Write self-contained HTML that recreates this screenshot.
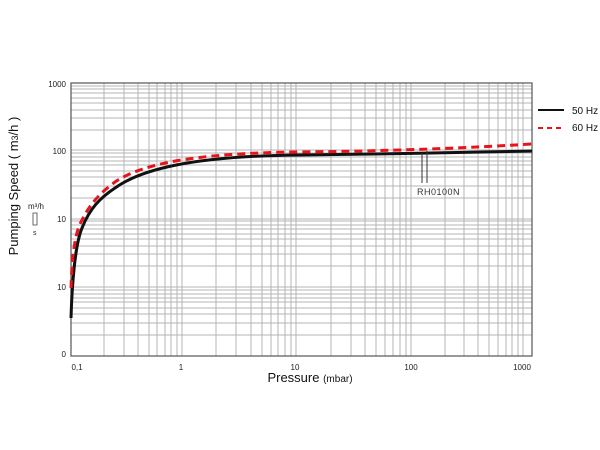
<!DOCTYPE html>
<html><head><meta charset="utf-8"><style>
body{margin:0;background:#fff;width:600px;height:450px;overflow:hidden}
svg{display:block;font-family:"Liberation Sans",sans-serif}
</style></head><body>
<svg width="600" height="450" viewBox="0 0 600 450">
<g stroke="#b4b4b4" stroke-width="1" fill="none">
<path d="M104 83V356M124 83V356M138 83V356M149 83V356M157 83V356M165 83V356M171 83V356M177 83V356M182 83V356
M216 83V356M236 83V356M251 83V356M262 83V356M271 83V356M278 83V356M285 83V356M291 83V356M296 83V356
M331 83V356M351 83V356M365 83V356M376 83V356M385 83V356M393 83V356M400 83V356M406 83V356M411 83V356
M445 83V356M464 83V356M478 83V356M489 83V356M498 83V356M506 83V356M512 83V356M518 83V356M523 83V356"/>
<path d="M71 335H532M71 323H532M71 314H532M71 308H532M71 302H532M71 298H532M71 294H532M71 290H532M71 287H532
M71 266H532M71 254H532M71 246H532M71 239H532M71 234H532M71 229H532M71 225H532M71 221H532M71 219H532
M71 198H532M71 186H532M71 177H532M71 171H532M71 165H532M71 161H532M71 157H532M71 153H532M71 150H532
M71 130H532M71 118H532M71 110H532M71 103H532M71 98H532M71 93H532M71 89H532M71 86H532"/>
</g>
<rect x="71" y="83" width="461" height="273" fill="none" stroke="#555" stroke-width="1.2"/>
<path d="M71 318 C72 285 75 245 82 228 C90 208 100 198 115 188 C140 170 190 156 300 155 C380 154 450 153 532 151" fill="none" stroke="#111" stroke-width="3"/>
<path d="M71 288 C72 255 75 232 82 220 C90 204 100 193 115 182 C140 165 190 153 300 152 C380 151 450 149 532 144" fill="none" stroke="#e8141c" stroke-width="3" stroke-dasharray="8,5"/>
<path d="M422 153V183M427 151V183" stroke="#333" stroke-width="1"/>
<text x="417" y="195" font-size="9" fill="#333" letter-spacing="0.5">RH0100N</text>
<g font-size="8" fill="#222" text-anchor="end">
<text x="66" y="87">1000</text><text x="66" y="154">100</text><text x="66" y="222">10</text><text x="66" y="290">10</text><text x="66" y="357">0</text>
</g>
<g font-size="8" fill="#222" text-anchor="middle">
<text x="77" y="370">0,1</text><text x="181" y="370">1</text><text x="295" y="370">10</text><text x="411" y="370">100</text><text x="522" y="370">1000</text>
</g>
<text x="310" y="382" font-size="13" text-anchor="middle" fill="#111">Pressure <tspan font-size="10">(mbar)</tspan></text>
<text transform="translate(18,186) rotate(-90)" font-size="13" text-anchor="middle" fill="#111">Pumping Speed ( m<tspan font-size="9">3</tspan>/h )</text>
<text x="28" y="209" font-size="8" fill="#222">m³/h</text>
<path d="M33 213h4v12h-4z" fill="none" stroke="#444" stroke-width="0.8"/>
<text x="33" y="235" font-size="7" fill="#222">s</text>
<path d="M538 110H564" stroke="#111" stroke-width="2"/>
<text x="572" y="114" font-size="10" fill="#111">50 Hz</text>
<path d="M538 128H564" stroke="#e8141c" stroke-width="2" stroke-dasharray="5,4"/>
<text x="572" y="131" font-size="10" fill="#111">60 Hz</text>
</svg>
</body></html>
